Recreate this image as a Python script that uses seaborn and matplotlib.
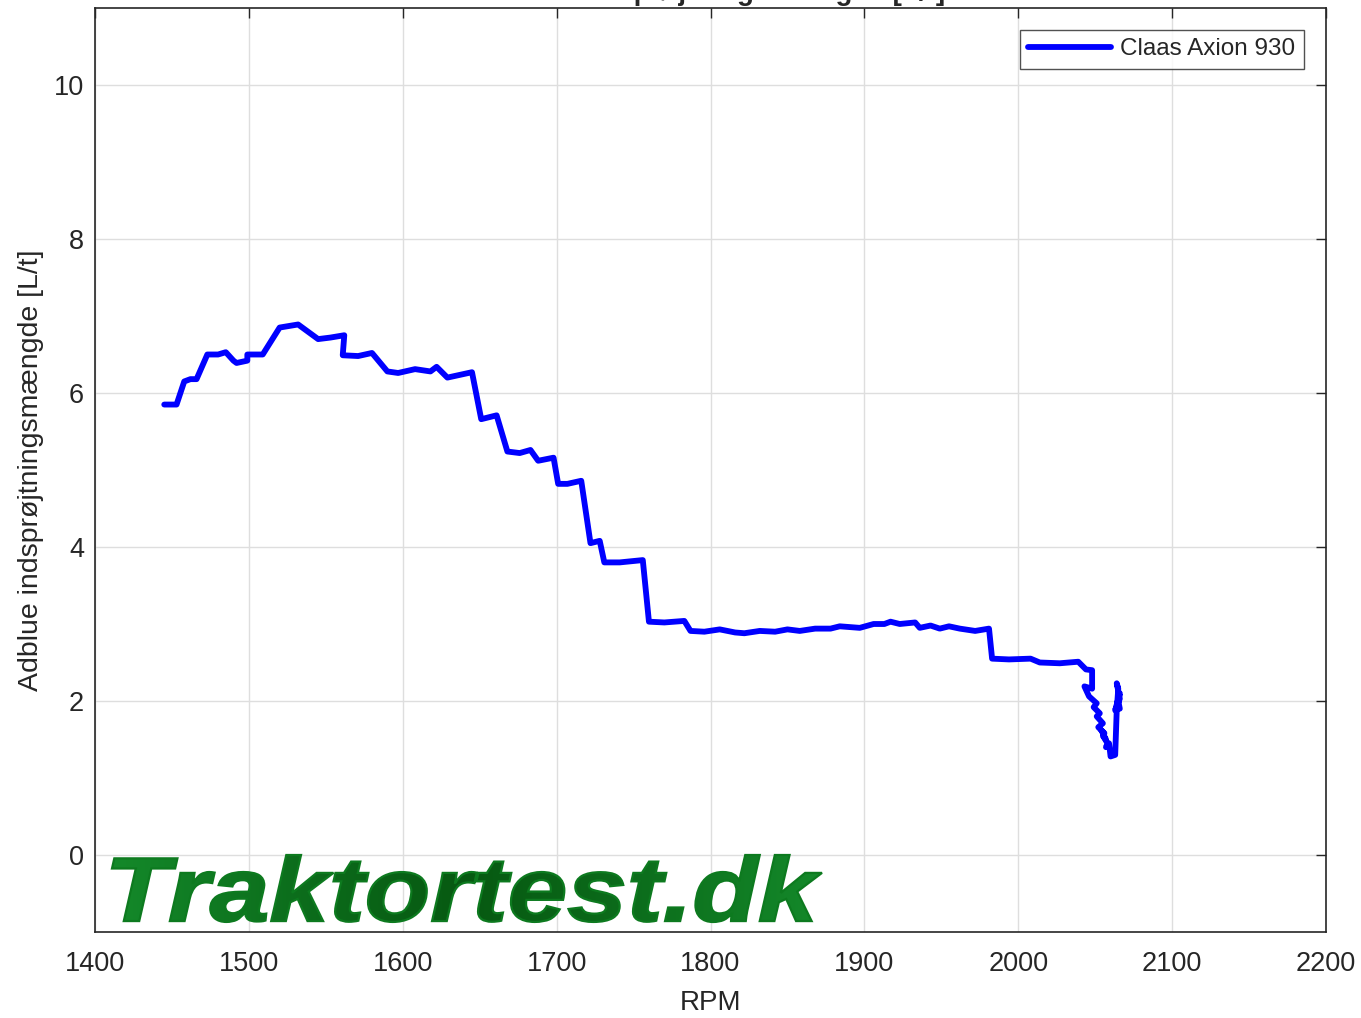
import numpy as np
import pandas as pd
import seaborn as sns
import matplotlib.pyplot as plt
from matplotlib.textpath import TextPath
from matplotlib.patches import PathPatch
from matplotlib.font_manager import FontProperties
from matplotlib.transforms import Affine2D
from matplotlib.colors import LinearSegmentedColormap

rpm = [1445, 1453, 1458, 1462, 1466, 1473, 1480, 1485, 1490, 1492, 1499, 1499, 1509,
       1520, 1532, 1545, 1553, 1562, 1561, 1571, 1580, 1590, 1597, 1608, 1618, 1622,
       1629, 1645, 1651, 1661, 1668, 1676, 1683, 1688, 1698, 1701, 1707, 1716, 1722,
       1728, 1731, 1741, 1756, 1760, 1770, 1783, 1787, 1796, 1806, 1816, 1822, 1832,
       1842, 1850, 1858, 1868, 1878, 1884, 1897, 1906, 1913, 1917, 1923, 1933, 1936,
       1943, 1949, 1955, 1962, 1972, 1981, 1983, 1994, 2008, 2014, 2027, 2039, 2044,
       2048, 2048, 2043, 2046, 2051, 2049, 2053, 2051, 2055, 2052, 2056, 2054, 2057,
       2055, 2058, 2057, 2059, 2060, 2063, 2064, 2065, 2064, 2066, 2063, 2066, 2065,
       2066]
adblue = [5.85, 5.85, 6.15, 6.18, 6.18, 6.50, 6.50, 6.53, 6.42, 6.39, 6.42, 6.50, 6.50,
          6.85, 6.89, 6.70, 6.72, 6.75, 6.49, 6.48, 6.52, 6.28, 6.26, 6.31, 6.28, 6.34,
          6.20, 6.27, 5.66, 5.71, 5.24, 5.22, 5.26, 5.12, 5.16, 4.82, 4.82, 4.86, 4.05,
          4.08, 3.80, 3.80, 3.83, 3.03, 3.02, 3.04, 2.91, 2.90, 2.93, 2.89, 2.88, 2.91,
          2.90, 2.93, 2.91, 2.94, 2.94, 2.97, 2.95, 3.00, 3.00, 3.03, 3.00, 3.02, 2.95,
          2.98, 2.94, 2.97, 2.94, 2.91, 2.94, 2.55, 2.54, 2.55, 2.50, 2.49, 2.51, 2.41,
          2.40, 2.16, 2.19, 2.06, 1.97, 1.92, 1.84, 1.80, 1.71, 1.66, 1.58, 1.62, 1.50,
          1.55, 1.45, 1.40, 1.45, 1.28, 1.30, 1.88, 2.16, 2.23, 2.03, 1.88, 2.10, 2.00,
          1.90]

df = pd.DataFrame({'RPM': rpm, 'Adblue': adblue, 'serie': 'Claas Axion 930'})

sns.set_style('white')
plt.rcParams['font.family'] = ['Liberation Sans', 'DejaVu Sans']

fig = plt.figure(figsize=(13.61, 10.18), dpi=100)
ax = fig.add_axes([95 / 1361, 1 - 932 / 1018, (1326 - 95) / 1361, (932 - 8) / 1018])

sns.lineplot(data=df, x='RPM', y='Adblue', hue='serie', palette=['#0000ff'],
             sort=False, estimator=None, linewidth=4.2, ax=ax)

ax.set_xlim(1400, 2200)
ax.set_ylim(-1, 11)
ax.set_xticks(range(1400, 2201, 100))
ax.set_yticks(range(0, 11, 2))
ax.grid(True, color='#dedede', linewidth=1)
ax.set_axisbelow(True)
ax.tick_params(direction='in', length=7, width=1, top=True, right=True,
               labelsize=19.5, colors='#262626')
ax.tick_params(axis='x', pad=14)
ax.tick_params(axis='y', pad=8)
for s in ax.spines.values():
    s.set_color('#262626')
    s.set_linewidth(1.2)
ax.set_xlabel('RPM', fontsize=20, color='#262626', labelpad=9)
ax.set_ylabel('Adblue indsprøjtningsmængde [L/t]', fontsize=20.5, color='#262626', labelpad=7)

leg = ax.legend(loc='upper right', fontsize=17.5, frameon=True, fancybox=False,
                handlelength=3.4, handletextpad=0.4, borderaxespad=0.9, borderpad=0.35)
leg.get_frame().set_edgecolor('#262626')
leg.get_frame().set_linewidth(1)
for ln in leg.get_lines():
    ln.set_linewidth(4.2)

# title sits above the canvas, only descenders visible
fig.text(ax.get_position().x0 + ax.get_position().width / 2, 1.0,
         'Adblue indsprøjtningsmængde [L/t]', ha='center', va='baseline',
         fontsize=20, fontweight='bold', color='#262626')

# watermark with green gradient
fp = FontProperties(family='Liberation Sans', weight='bold', style='italic')
tp = TextPath((0, 0), 'Traktortest.dk', size=93, prop=fp)
bb = tp.get_extents()
sx = (822 - 112) / bb.width
tr = Affine2D().translate(-bb.x0, -bb.y0).scale(sx, 67.0 / bb.height).translate(112, 1018 - 922)
path = tr.transform_path(tp)
cmap = LinearSegmentedColormap.from_list('g', ['#075a12', '#14892a'])
outline = PathPatch(path, facecolor='none', edgecolor='#0d7a1f', linewidth=1.6, transform=None)
fig.patches.append(outline)
patch = PathPatch(path, facecolor='none', edgecolor='none', transform=None)
fig.patches.append(patch)
grad = np.abs(np.linspace(-1, 1, 256)) ** 1.2
grad = np.repeat(grad[np.newaxis, :], 10, axis=0)
pb = path.get_extents()
img_ax = fig.add_axes([pb.x0 / 1361, pb.y0 / 1018, pb.width / 1361, pb.height / 1018])
img_ax.axis('off')
img = img_ax.imshow(grad, cmap=cmap, aspect='auto', extent=[0, 1, 0, 1])
img.set_clip_path(patch)

fig.savefig('out.png', dpi=100)
